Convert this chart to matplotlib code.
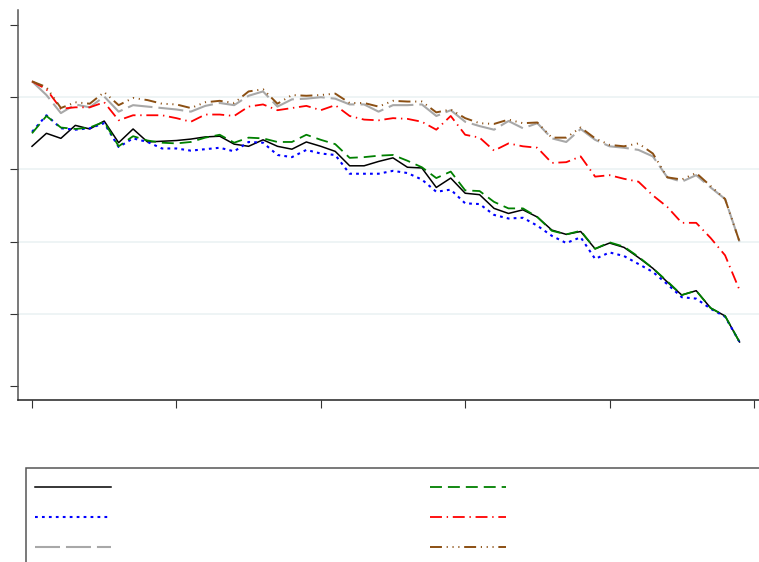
import matplotlib
matplotlib.use("Agg")
import matplotlib.pyplot as plt
from matplotlib.lines import Line2D
from matplotlib.patches import Rectangle
import numpy as np

plt.rcParams['lines.scale_dashes'] = False

periods = list(range(50))

black_vals = [3.32, 3.50, 3.43, 3.61, 3.56, 3.67, 3.37, 3.56, 3.38, 3.39,
              3.40, 3.42, 3.45, 3.46, 3.35, 3.32, 3.41, 3.32, 3.28, 3.38,
              3.32, 3.25, 3.05, 3.05, 3.11, 3.16, 3.03, 3.02, 2.75, 2.88,
              2.67, 2.65, 2.46, 2.39, 2.44, 2.34, 2.16, 2.10, 2.14, 1.90,
              1.98, 1.92, 1.78, 1.63, 1.44, 1.26, 1.32, 1.08, 0.97, 0.61]
green_vals = [3.50, 3.74, 3.58, 3.56, 3.58, 3.66, 3.32, 3.46, 3.40, 3.37,
              3.36, 3.38, 3.44, 3.48, 3.37, 3.44, 3.43, 3.38, 3.38, 3.48,
              3.41, 3.35, 3.16, 3.17, 3.19, 3.20, 3.12, 3.03, 2.88, 2.97,
              2.71, 2.70, 2.55, 2.46, 2.46, 2.34, 2.15, 2.10, 2.15, 1.90,
              1.99, 1.93, 1.79, 1.63, 1.45, 1.26, 1.32, 1.08, 0.97, 0.61]
blue_vals = [3.52, 3.75, 3.57, 3.55, 3.57, 3.64, 3.31, 3.43, 3.38, 3.29,
             3.29, 3.26, 3.28, 3.30, 3.25, 3.38, 3.37, 3.20, 3.17, 3.27,
             3.22, 3.20, 2.94, 2.94, 2.94, 2.98, 2.95, 2.86, 2.69, 2.72,
             2.53, 2.52, 2.37, 2.32, 2.33, 2.22, 2.08, 1.98, 2.06, 1.76,
             1.85, 1.80, 1.69, 1.58, 1.41, 1.23, 1.21, 1.07, 0.96, 0.61]
red_vals = [4.22, 4.11, 3.84, 3.86, 3.86, 3.93, 3.68, 3.75, 3.75, 3.75,
            3.71, 3.66, 3.76, 3.76, 3.74, 3.87, 3.90, 3.82, 3.85, 3.88,
            3.82, 3.89, 3.74, 3.69, 3.68, 3.71, 3.70, 3.66, 3.55, 3.74,
            3.48, 3.44, 3.26, 3.36, 3.32, 3.30, 3.09, 3.10, 3.18, 2.90,
            2.92, 2.87, 2.83, 2.64, 2.48, 2.26, 2.26, 2.05, 1.81, 1.33]
gray_vals = [4.22, 4.03, 3.78, 3.90, 3.86, 4.01, 3.80, 3.89, 3.87, 3.85,
             3.83, 3.80, 3.88, 3.92, 3.89, 4.02, 4.08, 3.87, 3.97, 3.98,
             4.00, 3.98, 3.90, 3.90, 3.80, 3.89, 3.89, 3.90, 3.74, 3.82,
             3.66, 3.60, 3.55, 3.67, 3.57, 3.64, 3.43, 3.38, 3.56, 3.41,
             3.32, 3.30, 3.27, 3.18, 2.89, 2.83, 2.92, 2.75, 2.59, 2.00]
brown_vals = [4.22, 4.14, 3.85, 3.93, 3.91, 4.07, 3.89, 3.99, 3.96, 3.91,
              3.90, 3.85, 3.93, 3.95, 3.92, 4.08, 4.11, 3.91, 4.03, 4.02,
              4.03, 4.05, 3.92, 3.92, 3.87, 3.95, 3.94, 3.94, 3.79, 3.83,
              3.71, 3.64, 3.63, 3.69, 3.64, 3.65, 3.44, 3.44, 3.58, 3.43,
              3.34, 3.32, 3.36, 3.22, 2.89, 2.86, 2.95, 2.77, 2.59, 2.00]

x_ticks = [0, 10, 20, 30, 40, 50]
y_ticks = [0, 1, 2, 3, 4, 5]
grid_levels = [1, 2, 3, 4]

W, H = 759, 562
fig = plt.figure(figsize=(W / 100, H / 100), dpi=100)
fig.patch.set_facecolor('white')

def fx(px):
    return px / W

def fy(py):
    return 1 - py / H

ax = fig.add_axes([fx(18), fy(400), fx(759) - fx(18), fy(10) - fy(400)])
ax.set_facecolor('white')

styles = [
    dict(vals=black_vals, color='black', lw=1.1, dashes=None),
    dict(vals=blue_vals, color='#0000ff', lw=1.5, dashes=(2.0, 3.0)),
    dict(vals=gray_vals, color='#a8a8a8', lw=1.5, dashes=(18.0, 4.3)),
    dict(vals=green_vals, color='#008000', lw=1.3, dashes=(8.6, 4.3)),
    dict(vals=red_vals, color='#ff0000', lw=1.3, dashes=(8.6, 3.4, 1.0, 3.4)),
    dict(vals=brown_vals, color='#8b4f13', lw=1.4,
         dashes=(8.6, 3.4, 0.8, 3.4, 0.8, 3.4, 0.8, 3.4)),
]

for lvl in grid_levels:
    ax.axhline(lvl, color='#eaf1f2', lw=1.1, zorder=0)

draw_order = [2, 5, 4, 3, 1, 0]
for k in draw_order:
    s = styles[k]
    ln, = ax.plot(periods, s['vals'], color=s['color'], lw=s['lw'], zorder=2 + k * 0.1)
    if s['dashes'] is not None:
        ln.set_dashes(s['dashes'])

ax.set_xlim(-0.97, 50.35)
ax.set_ylim(-0.194, 5.208)
ax.set_xticks(x_ticks)
ax.set_yticks(y_ticks)
ax.set_xticklabels([])
ax.set_yticklabels([])
ax.tick_params(axis='both', direction='out', length=5.8, width=0.8, color='#333333')
for side in ['top', 'right']:
    ax.spines[side].set_visible(False)
ax.spines['left'].set_color('#555555')
ax.spines['bottom'].set_color('#222222')
ax.spines['left'].set_linewidth(1.1)
ax.spines['bottom'].set_linewidth(1.1)

# legend box (extends beyond the figure edge)
rect = Rectangle((fx(26), fy(600)), fx(800) - fx(26), fy(468) - fy(600),
                 transform=fig.transFigure, facecolor='white',
                 edgecolor='#555555', lw=1.1)
fig.patches.append(rect)

legend_pos = [(35, 487), (35, 517), (35, 547), (430, 487), (430, 517), (430, 547)]
for (px, py), s in zip(legend_pos, styles):
    l = Line2D([fx(px), fx(px + 76)], [fy(py), fy(py)], transform=fig.transFigure,
               color=s['color'], lw=s['lw'])
    if s['dashes'] is not None:
        l.set_dashes(s['dashes'])
    fig.lines.append(l)

fig.savefig('out.png', dpi=100, facecolor='white')
